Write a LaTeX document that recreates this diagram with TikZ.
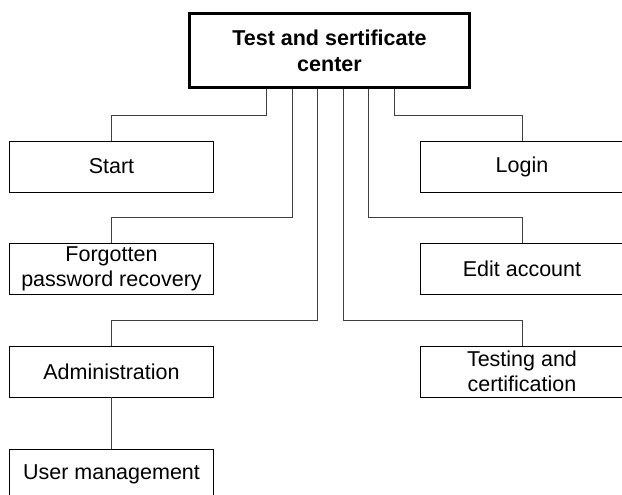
\documentclass[tikz,border=0pt]{standalone}
\usepackage{fontspec}
\setmainfont{Liberation Sans}
\usetikzlibrary{positioning}

\begin{document}
\begin{tikzpicture}[x=1pt,y=-1pt,
	box/.style={draw, line width=0.9pt, minimum width=204pt, minimum height=51pt, inner sep=0pt,
		align=center, font=\fontsize{21.5}{25}\selectfont},
	rootbox/.style={box, line width=3pt, minimum width=280pt, minimum height=74pt,
		font=\fontsize{21.5}{26}\selectfont\bfseries},
	link/.style={line width=0.9pt, black!75}]
	\useasboundingbox (0,0) rectangle (622,495);
	\clip (0,0) rectangle (622,495);

	\node (center) [rootbox] at (329.5,50.5) {Test and sertificate\\center};

	\node (start)  [box] at (111.5,166.5) {Start};
	\node (forgot) [box] at (111.5,268.5) {Forgotten\\password recovery};
	\node (admin)  [box] at (111.5,371.5) {Administration};
	\node (users)  [box] at (111.5,474.5) {User management};

	\node (login)   [box] at (522,166.5) {Login};
	\node (account) [box] at (522,268.5) {Edit account};
	\node (testing) [box] at (522,371.5) {Testing and\\certification};

	\draw[link] ([xshift=-63.5pt]center.south) -- ++(0,26) -| (start.north);
	\draw[link] ([xshift=-37.5pt]center.south) -- ++(0,128) -| (forgot.north);
	\draw[link] ([xshift=-12.5pt]center.south) -- ++(0,231) -| (admin.north);
	\draw[link] ([xshift=13.5pt]center.south) -- ++(0,231) -| (testing.north);
	\draw[link] ([xshift=38.5pt]center.south) -- ++(0,128) -| (account.north);
	\draw[link] ([xshift=64.5pt]center.south) -- ++(0,26) -| (login.north);
	\draw[link] (admin) -- (users);
\end{tikzpicture}
\end{document}
